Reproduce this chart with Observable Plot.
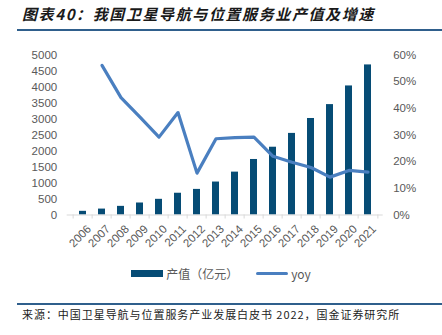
<!DOCTYPE html>
<html><head><meta charset="utf-8">
<script src="https://cdn.jsdelivr.net/npm/d3@7"></script>
<script src="https://cdn.jsdelivr.net/npm/@observablehq/plot@0.6"></script>
<style>
html,body{margin:0;padding:0;background:#fff;}
#wrap{position:relative;width:442px;height:335px;overflow:hidden;font-family:"Liberation Sans",Arial,sans-serif;}
#title{position:absolute;left:22px;top:4px;font-family:"Noto Sans CJK SC",sans-serif;font-weight:bold;font-style:italic;font-size:15px;letter-spacing:1.6px;color:#1a1a1a;white-space:nowrap;z-index:2;line-height:20px;}
#tline{position:absolute;left:17px;top:29px;width:425px;height:2px;background:#2f5f8c;z-index:2;}
#chart{position:absolute;left:0;top:0;}
#legend{position:absolute;left:0;width:442px;top:265px;height:16px;display:flex;justify-content:center;align-items:center;font-size:12px;color:#595959;font-family:"Noto Sans CJK SC","Liberation Sans",sans-serif;}
.sw{display:inline-block;margin-right:3px;}
#bline{position:absolute;left:17px;top:303px;width:425px;height:2px;background:#2f5f8c;}
#source{position:absolute;left:22px;top:306px;font-family:"Noto Sans CJK SC",sans-serif;font-size:11px;letter-spacing:0.95px;color:#222;white-space:nowrap;line-height:16px;}
</style></head>
<body><div id="wrap">
<div id="chart"></div>
<div id="title">图表40：我国卫星导航与位置服务业产值及增速</div>
<div id="tline"></div>
<div id="legend"></div>
<div id="bline"></div>
<div id="source">来源：中国卫星导航与位置服务产业发展白皮书 2022，国金证券研究所</div>
</div>
<script>
const years = ["2006","2007","2008","2009","2010","2011","2012","2013","2014","2015","2016","2017","2018","2019","2020","2021"];
const output = [115,185,270,375,490,680,800,1030,1340,1735,2118,2550,3016,3450,4033,4690];
const yoy = [null,56.1,44.0,36.7,29.2,38.4,15.7,28.6,29.0,29.2,22.0,19.8,17.8,14.2,16.7,16.1];
const leftTicks = [0,500,1000,1500,2000,2500,3000,3500,4000,4500,5000];
const rightTicks = [0,10,20,30,40,50,60];
const labelOutput = "产值（亿元）";
const labelYoy = "yoy";

const barColor = "#064c75";
const lineColor = "#4a7fc0";
const k = 5000/60;

const bars = years.map((y,i)=>({year:y, value:output[i]}));
const line = years.map((y,i)=>({year:y, yoy:yoy[i]})).filter(d=>d.yoy!=null);

const W = 442, H = 255, mL = 66.7, mR = 59.3, mT = 54.5, mB = 40.5;
const step = (W-mL-mR)/years.length;

const plot = Plot.plot({
  width: W, height: H,
  marginLeft: mL, marginRight: mR, marginTop: mT, marginBottom: mB,
  style: {background:"transparent", fontFamily:"'Liberation Sans', Arial, sans-serif", fontSize:"11.5px", color:"#595959"},
  x: {type:"band", domain: years, paddingInner:0.64, paddingOuter:0.32, label:null, axis:null},
  y: {domain:[0,5000], label:null, axis:null},
  marks: [
    Plot.barY(bars, {x:"year", y:"value", fill: barColor}),
    Plot.ruleY([0], {stroke:"#d9d9d9", strokeWidth:1}),
    Plot.axisX(years, {tickSize:4, dx:-step/2, tickFormat:()=>"", stroke:"#d9d9d9"}),
    Plot.axisX([years[years.length-1]], {tickSize:4, dx:step/2, tickFormat:()=>"", stroke:"#d9d9d9"}),
    Plot.text(years, {x:d=>d, text:d=>d, frameAnchor:"bottom", rotate:-45, textAnchor:"end", lineAnchor:"top", dx:3, dy:9, fontSize:11.5, fill:"#595959"}),
    Plot.axisY({anchor:"left", ticks:leftTicks, tickFormat:d=>String(d), tickSize:0, tickPadding:10, fontSize:11.5, fill:"#595959", label:null}),
    Plot.axisY({anchor:"right", ticks:rightTicks.map(v=>v*k), tickFormat:d=>Math.round(d/k)+"%", tickSize:0, tickPadding:10, fontSize:11.5, fill:"#595959", label:null}),
    Plot.line(line, {x:"year", y:d=>d.yoy*k, stroke:lineColor, strokeWidth:3.2, strokeLinejoin:"round"})
  ]
});
document.getElementById("chart").appendChild(plot);

const lg = document.getElementById("legend");
lg.innerHTML = `<span class="sw" style="width:32px;height:7px;background:${barColor}"></span><span>${labelOutput}</span>`+
  `<span class="sw" style="width:32px;height:3px;background:${lineColor};border-radius:2px;margin-left:18px"></span><span>${labelYoy}</span>`;
</script>
</body></html>
